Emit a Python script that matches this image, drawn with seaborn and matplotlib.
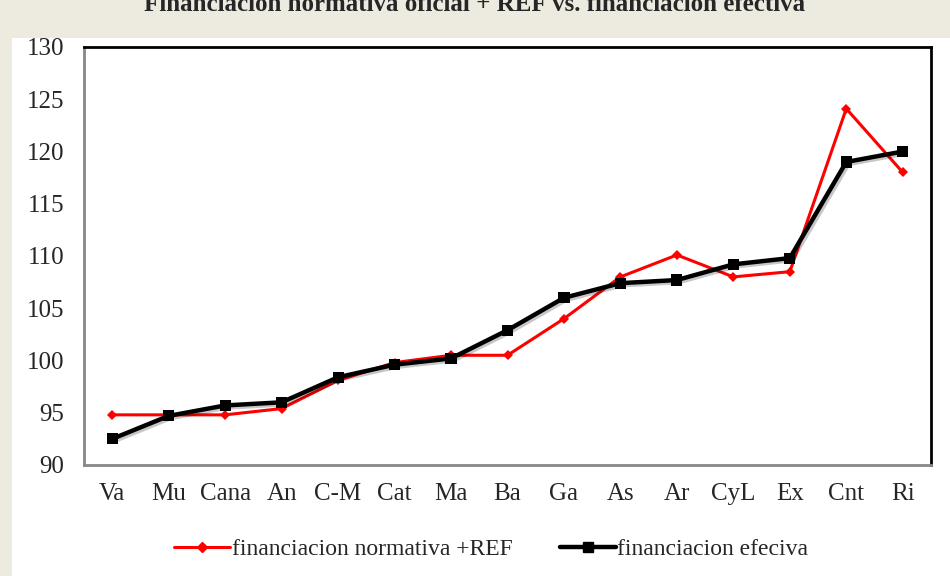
import numpy as np
import pandas as pd
import matplotlib.pyplot as plt
import matplotlib.patheffects as pe
from matplotlib.patches import Rectangle
from matplotlib.lines import Line2D
import seaborn as sns

sns.set_style("white")
plt.rcParams["font.family"] = ["Liberation Serif", "DejaVu Serif"]

regiones = ["Va", "Mu", "Cana", "An", "C-M", "Cat", "Ma", "Ba", "Ga", "As",
            "Ar", "CyL", "Ex", "Cnt", "Ri"]
normativa_ref = [94.8, 94.8, 94.8, 95.4, 98.1, 99.8, 100.5, 100.5, 104.0, 108.0,
                 110.1, 108.0, 108.5, 124.1, 118.0]
efectiva = [92.5, 94.7, 95.7, 96.0, 98.4, 99.6, 100.2, 102.9, 106.0, 107.4,
            107.7, 109.2, 109.8, 119.0, 120.0]

df = pd.DataFrame({
    "pos": np.arange(len(regiones)),
    "normativa": normativa_ref,
    "efectiva": efectiva,
})

fig = plt.figure(figsize=(9.5, 5.76), dpi=100)
fig.patch.set_facecolor("#EDEAE0")
fig.patches.append(Rectangle((12 / 950, 0), 1 - 12 / 950, 1 - 38 / 576,
                             transform=fig.transFigure, facecolor="white",
                             edgecolor="none", zorder=-5))

fig.text(0.5, 1.012, "Financiación normativa oficial + REF vs. financiación efectiva",
         ha="center", va="top", fontsize=18, fontweight="bold")

ax = fig.add_axes([84 / 950, 1 - 465 / 576, (931 - 84) / 950, (465 - 47) / 576])
ax.set_facecolor("white")

sns.lineplot(data=df, x="pos", y="normativa", ax=ax, color="#FF0000",
             linewidth=2.2, marker="D", markersize=5.5, markeredgewidth=0)
sns.lineplot(data=df, x="pos", y="efectiva", ax=ax, color="black",
             linewidth=3.2, marker="s", markersize=8, markeredgewidth=0,
             path_effects=[pe.SimpleLineShadow(offset=(1.5, -1.5), alpha=0.22),
                           pe.Normal()])

ax.set_xlim(-0.5, len(regiones) - 0.5)
ax.set_ylim(90, 130)
ax.set_yticks(range(90, 131, 5))
ax.set_xticks(df["pos"])
ax.set_xticklabels(regiones)
ax.set_xticks(np.arange(-0.5, len(regiones), 1), minor=True)
ax.tick_params(axis="x", which="major", length=0, pad=13, labelsize=18)
ax.tick_params(axis="x", which="minor", length=5, width=1.5, color="#888888",
               direction="out")
ax.tick_params(axis="y", length=6, width=1.5, color="#888888", direction="out",
               pad=8, labelsize=18)
ax.set_xlabel("")
ax.set_ylabel("")

for side in ["left", "bottom"]:
    ax.spines[side].set_color("#888888")
    ax.spines[side].set_linewidth(2)
for side in ["top", "right"]:
    ax.spines[side].set_color("black")
    ax.spines[side].set_linewidth(2)

handles = [
    Line2D([], [], color="#FF0000", linewidth=2.2, marker="D", markersize=5.5),
    Line2D([], [], color="black", linewidth=3.2, marker="s", markersize=7),
]
fig.legend(handles, ["financiacion normativa +REF", "financiacion efeciva"],
           loc="center", bbox_to_anchor=(0.517, 1 - 549 / 576), ncol=2,
           frameon=False, fontsize=17, handlelength=2.4, handletextpad=0.05,
           columnspacing=2.0)

plt.savefig("out.png", dpi=100)
